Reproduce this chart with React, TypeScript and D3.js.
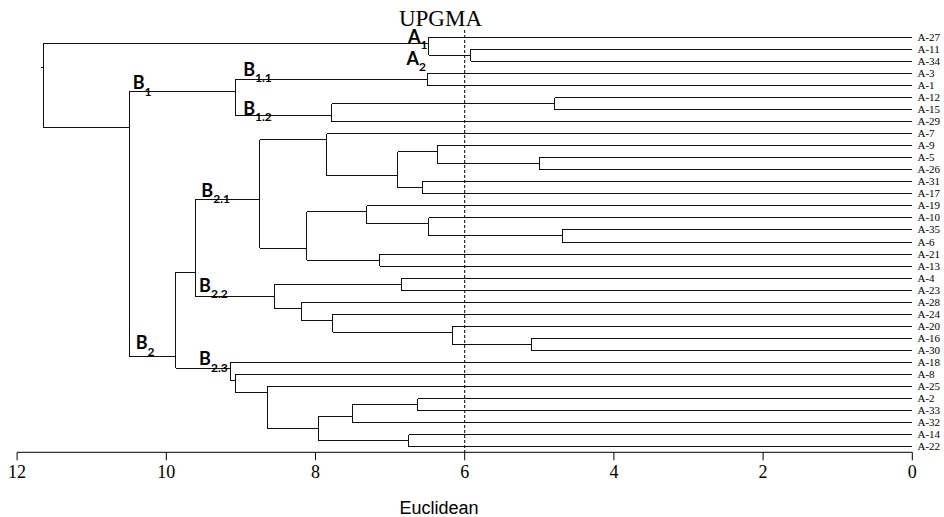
import React from "react";
import * as d3 from "d3";

const leaves = [
  "A-27", "A-11", "A-34", "A-3", "A-1", "A-12", "A-15", "A-29", "A-7", "A-9",
  "A-5", "A-26", "A-31", "A-17", "A-19", "A-10", "A-35", "A-6", "A-21", "A-13",
  "A-4", "A-23", "A-28", "A-24", "A-20", "A-16", "A-30", "A-18", "A-8", "A-25",
  "A-2", "A-33", "A-32", "A-14", "A-22",
];

// [node id, upper child, lower child, merge height (Euclidean)]
const merges: [string, string, string, number][] = [
  ["nA1", "A-11", "A-34", 5.92],
  ["A", "A-27", "nA1", 6.48],
  ["B11", "A-3", "A-1", 6.5],
  ["n1215", "A-12", "A-15", 4.79],
  ["B12", "n1215", "A-29", 7.78],
  ["B1", "B11", "B12", 9.07],
  ["n526", "A-5", "A-26", 5.0],
  ["n9", "A-9", "n526", 6.37],
  ["n3117", "A-31", "A-17", 6.57],
  ["n917", "n9", "n3117", 6.9],
  ["up21", "A-7", "n917", 7.85],
  ["n356", "A-35", "A-6", 4.69],
  ["n10", "A-10", "n356", 6.48],
  ["n19", "A-19", "n10", 7.31],
  ["n2113", "A-21", "A-13", 7.14],
  ["low21", "n19", "n2113", 8.12],
  ["B21", "up21", "low21", 8.75],
  ["n423", "A-4", "A-23", 6.85],
  ["n1630", "A-16", "A-30", 5.11],
  ["n20", "A-20", "n1630", 6.17],
  ["n24", "A-24", "n20", 7.77],
  ["n28", "A-28", "n24", 8.19],
  ["B22", "n423", "n28", 8.55],
  ["B2a", "B21", "B22", 9.61],
  ["n233", "A-2", "A-33", 6.63],
  ["n232", "n233", "A-32", 7.51],
  ["n1422", "A-14", "A-22", 6.75],
  ["n222", "n232", "n1422", 7.96],
  ["n25", "A-25", "n222", 8.65],
  ["n8", "A-8", "n25", 9.07],
  ["B23", "A-18", "n8", 9.14],
  ["B2", "B2a", "B23", 9.87],
  ["B", "B1", "B2", 10.5],
  ["root", "A", "B", 11.65],
];

const axisTicks = [12, 10, 8, 6, 4, 2, 0];
const cutOff = 6;

// cluster labels: [main, subscript, euclidean position, leaf-index position of baseline]
const clusterLabels: [string, string, number, number][] = [
  ["A", "1", 6.76, 0.45],
  ["A", "2", 6.78, 2.3],
  ["B", "1", 10.45, 4.32],
  ["B", "1.1", 8.97, 3.21],
  ["B", "1.2", 8.97, 6.45],
  ["B", "2.1", 9.53, 13.24],
  ["B", "2.2", 9.56, 21.15],
  ["B", "2", 10.41, 25.91],
  ["B", "2.3", 9.56, 27.22],
];

export default function App() {
  const W = 944;
  const H = 517;
  const x = d3.scaleLinear().domain([12, 0]).range([17.1, 912.3]);
  const y = d3.scaleLinear().domain([0, leaves.length - 1]).range([37.3, 446.7]);
  const axisY = 452.3;

  type Info = { h: number; lo: number; hi: number; attach: number };
  const info = new Map<string, Info>();
  leaves.forEach((l, i) => info.set(l, { h: 0, lo: i, hi: i, attach: i }));
  const segs: { x1: number; y1: number; x2: number; y2: number }[] = [];
  merges.forEach(([id, a, b, h]) => {
    const ca = info.get(a)!;
    const cb = info.get(b)!;
    const attach = ca.hi + 0.5;
    info.set(id, { h, lo: Math.min(ca.lo, cb.lo), hi: Math.max(ca.hi, cb.hi), attach });
    segs.push({ x1: x(h), y1: y(ca.attach), x2: x(h), y2: y(cb.attach) });
    segs.push({ x1: x(h), y1: y(ca.attach), x2: x(ca.h), y2: y(ca.attach) });
    segs.push({ x1: x(h), y1: y(cb.attach), x2: x(cb.h), y2: y(cb.attach) });
  });
  const root = info.get("root")!;
  segs.push({ x1: x(root.h) - 2, y1: y(root.attach), x2: x(root.h), y2: y(root.attach) });

  const serif = "'Liberation Serif', 'Times New Roman', serif";
  const bold = "Lato, 'Open Sans', sans-serif";

  return (
    <svg width={W} height={H} style={{ position: "absolute", left: 0, top: 0, background: "#fff" }}>
      <text x={440.5} y={26} textAnchor="middle" fontFamily={serif} fontSize={23} fill="#000">
        UPGMA
      </text>
      <g stroke="#111" strokeWidth={1} fill="none" shapeRendering="crispEdges">
        {segs.map((s, i) => (
          <line key={i} x1={s.x1} y1={s.y1} x2={s.x2} y2={s.y2} />
        ))}
      </g>
      <line
        x1={x(cutOff)}
        x2={x(cutOff)}
        y1={30}
        y2={axisY}
        stroke="#000"
        strokeWidth={1}
        strokeDasharray="3,2"
      />
      {leaves.map((l, i) => (
        <text key={l} x={917.5} y={y(i) + 3.5} fontFamily={serif} fontSize={11} fill="#000">
          {l}
        </text>
      ))}
      {clusterLabels.map(([m, s, v, p], i) => (
        <text key={i} x={x(v)} y={y(p)} fontFamily={bold} fontWeight="bold" fontSize={18} fill="#000">
          {m}
          <tspan fontSize={12} dy={6.5}>
            {s}
          </tspan>
        </text>
      ))}
      <g>
        <line x1={x(12)} x2={x(0)} y1={axisY} y2={axisY} stroke="#000" strokeWidth={1} />
        {axisTicks.map((t) => (
          <g key={t}>
            <line x1={x(t)} x2={x(t)} y1={axisY} y2={axisY + 8} stroke="#000" strokeWidth={1} />
            <text x={x(t)} y={478.3} textAnchor="middle" fontFamily={serif} fontSize={18} fill="#000">
              {t}
            </text>
          </g>
        ))}
      </g>
      <text x={439} y={514} textAnchor="middle" fontFamily="'Liberation Sans', Arial, sans-serif" fontSize={18} fill="#000">
        Euclidean
      </text>
    </svg>
  );
}
